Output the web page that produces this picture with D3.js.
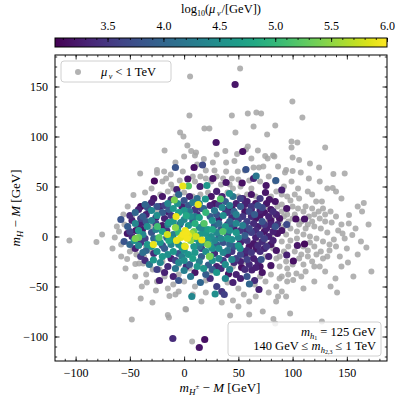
<!DOCTYPE html>
<html lang="en">
<head>
<meta charset="UTF-8">
<script src="https://d3js.org/d3.v7.min.js"></script>
<style>
body { margin: 0; background: #fff; }
text { font-family: "Liberation Serif", "DejaVu Serif", serif; fill: #000; }
</style>
</head>
<body>
<div id="vis"></div>
<script>

// grey points: mu_v < 1 TeV  [mH+- - M, mH - M]
var greyPts = [
  [5.5,160],[51.6,168],[99.8,135],[109,119],[4.9,121],[44,121],[58.7,123],[66.6,124],[71,123],[84,111],
  [64,110],[18.7,108],[23.3,108],[-3.7,104],[-0.6,100],[47.3,104],[76.5,102],[3,91],[6.5,85.5],[11,84],
  [10,81],[38,85.5],[48.8,82.5],[58.7,90],[57,87],[74.7,80.5],[83.2,80],[46.4,75.5],[38.7,74],[26.5,74],
  [18.2,77.5],[-1.2,65],[-12.3,62],[38.7,65],[49.5,65],[56,66],[64,69],[69,69],[73,70],[77,78],[82,81],
  [-16.6,58],[44,58],[50,57],[36,58],
  [99,95],[104.4,94],[99,89],[130,89],[100,79],[106,76.5],[116,73],[124.4,69],[137.6,62.5],[148,63],
  [107.5,64],[100,65.5],[94,66.5],[93,64],[86.6,70],
  [-18,86],[-40.5,63],[-25,66.5],[-25,63.5],[-18.4,65],[-46.7,41.5],[-20,55],[-12,52],[-30,48],[-36,44],
  [-22,42],[-15,45],
  [-105.7,-4],[-80.8,-5.5],[-75.6,2],[-63.9,-1],[-52.5,-22.5],[-48.2,-83],[-39,-50],[-34.4,-46],[-29.2,-66],
  [-26,-54],[-45,-27.5],[-41.5,-27],[-37.8,-27],[-28.9,-33],[-22.7,-33],[-60,5],[-58,-8],[-55,12],[-48,20],
  [-45,25],[-40,30],[-47,-12],[-50,-15],[-44,-18],[-37,-20],
  [-15,-78.5],[-14,-81],[1.8,-73],[-13.5,-59.5],[1.2,-72.5],[16,-65],[34.7,-66],[45,-64],[42.4,-79],
  [72.5,-75],[82.3,-82.5],[84,-87],[84.8,-65],[97.7,-77],[127,-85],[7.4,-105],
  [-10,-48],[0,-45],[10,-50],[20,-44],[40,-46],[50,-52],[55,-58],[65,-48],[75,-45],[85,-50],[90,-40],
  [95,-32],[70,-40],[-5,-38],[-18,-40],[60,-65],[-8,-58],
  [86,30],[90,25],[95,22],[100,30],[105,28],[110,25],[115,20],[120,22],[125,18],[130,15],[128,28],
  [135,25],[140,20],[145,12],[152,21.5],[164,25],[151.8,13],[146,3],[155,1.5],[163,-5],[168,-11],
  [143.5,-20],[150,-12],[151,-26],[139.5,-42],[141,-56],[172.6,-35],[165.6,33.5],[137,48.5],[140,45],
  [121.7,35],[127,35],[99,55],[105,48],[114,45],[118,42],[95,40],[90,42],[85,45],[80,40],[76,30],
  [82,20],[88,15],[92,10],[98,8],[104,5],[110,2],[116,0],[122,-2],[128,-5],[134,-8],[138,-3],[132,4],
  [126,8],[120,10],[114,12],[108,15],[100,18],[94,2],[90,-5],[96,-10],[102,-15],[108,-18],[114,-14],
  [120,-10],[126,-15],[132,-20],[118,-25],[110,-28],[103.5,-37],[100.5,-43.5],[95,-45],[112,-35],
  [125,-30],[86.6,-60],[90,-55],[80,-30],[75,-20],[85,-22],[88,-30],[70,-5],[76,-8],[82,-12],[72,10],
  [78,15],[84,5],[80,0],[65,20],[60,25],[70,30],[66,40],[58,42],[62,48],[54,30],[50,40],[45,48],
  [40,44],[30,46],[22,44],[15,42],[8,40],[0,44],[-8,40],[25,55],[30,60],[15,60],[10,55],[60,-20],
  [55,-25],[45,-30],[35,-25],[25,-35],[15,-30],[5,-32],[-5,-28],[-12,-22],[-20,-25],[-30,-15],
  [-35,-10],[-30,10],[-25,25],[-15,30],[130,-35],[145,-30],[158,8],[160,-18],
  [92,20],[96,15],[102,22],[106,12],[112,8],[118,15],[124,25],[130,22],[136,14],[142,6],[148,-2],
  [140,-10],[134,-14],[128,-22],[122,-18],[116,-6],[110,-10],[104,-2],[98,-4],[92,-15],[88,-20],
  [94,-25],[100,-28],[106,-22],[114,-20],[120,-30],[108,-40],[96,-38],[88,-42],[80,-38],[90,32],
  [98,36],[106,38],[112,30],[118,28],[102,42],[92,50],[84,55],[78,60],[70,55],[60,56],[52,50],
  [42,52],[34,52],[20,58],[8,60],[-4,56],[-10,48],[28,66],[20,66],[12,72],[0,80],[-8,74],[30,82],
  [62,78],[68,86],[94,-60],[110,-52],[78,-56],[66,-60],[120,-45],[135,-50],[156,-40],[160,30],
  [170,12],[145,38],[132,48],[125,55],[115,58],[-52,30],[-56,22],[-62,10],[-66,-12],[-58,-20],
  [-54,-32],[-45,-40],[-35,-38],[-25,-45],[-15,-52],[-5,-55],[8,-58],[20,-56],[50,-70],[60,-78],[-40,-62]
];

// coloured points: [mH+- - M, mH - M, log10(mu_v/GeV)]
var colPts = [
  [47,152,3.2],[29.5,94,3.2],[54,85,3.15],[-8,69,3.8],[9.2,69,3.15],[17,71.5,3.7],[57,67,3.8],
  [66.4,60.5,4.2],[84.5,56,3.9],[90,46.5,3.3],[94.6,28,3.2],[103,17.5,3.15],[111,17.5,3.2],
  [104.4,-9,3.2],[111,-7.5,3.1],[94.6,-18.5,3.3],[100.7,-24.5,3.15],[94.6,12,3.7],[-27.4,55.5,3.1],
  [-58.3,17,3.8],[-10.4,-102,3.4],[19,-103,3.15],[14,-111,3.2],[-22.7,-44,3.3],[7.1,-60,4.4],
  [28.6,-57.5,4.5],[34.7,-55,3.5],[30.1,-50,3.6],[37,-58,3.6],[60.2,-47.5,4.0],[69,-53,3.3],
  [40.9,-37.5,3.2],[53,-31,3.15],[62.4,-33.5,3.3],[80,-29,3.2],[71,-23,3.8],[3.4,57.5,3.2],
  [-6.7,47,3.3],[-1.2,50.5,5.9],[4,50.5,5.2],[21,51,4.6],[14.7,50,3.3],[26.5,58,3.2],[38.7,54,3.2],
  [53.5,53.5,3.15],[64,58,3.3],[75.6,51,3.2],[78.6,37,3.2],[75,44,3.2],[-33.8,29,3.8],[-9,36.5,5.4],
  [13,32,5.9],[33.5,37.5,5.2],[41.8,43,4.5],[30,45,3.3],[19.6,37.5,4.6],[54,38,3.3],[-52.3,3,3.2],
  [-55.3,-5,3.8],[-44.5,6,3.2],[-38.4,7,3.2],[-45,-2,5.4],[-42,-1,5.3],[-33.8,-8,4.6],[-28.3,-8,5.9],
  [-23,-1,5.2],[-28.3,-23.5,4.6],[-25,-15,4.5],[-32,26.5,3.2],[-26,19,3.3],[-7.4,20,5.9],[-15.4,2,5.8],
  [-14.5,24.5,3.3],[-24.6,10,5.1],[16.3,-3.5,5.9],[1,-10,5.9],[0.3,-9.5,5.6],[23.3,-20,5.4],
  [21.8,-8,5.4],[35.7,5,5.2],[18.4,13,5.2],[24.6,-20,4.6],[22.4,-28.5,3.9],[24,-19.5,5.2],
  [51.6,-12,4.5],[66.4,-12.5,3.2],
  [-1,2,5.95],[2,4,5.95],[4,1,5.9],[7,3,5.6],[-3,-1,5.9],[3,-2,5.95],[9,5,5.3],[1,6,5.9],
  [6,-4,5.5],[-5,4,5.0],[11,0,5.8],[-7,-4,5.9],
  [-20,40,3.2],[-5,42,4.0],[5,40,3.3],[25,40,3.2],[45,40,4.2],[62,42,3.2],[70,38,3.5],
  [-30,34,3.3],[-15,33,4.4],[0,36,3.8],[8,34,4.3],[28,33,3.2],[38,35,3.9],[48,33,3.3],[58,35,3.3],
  [66,33,3.2],[84,35,3.2],
  [-40,30,3.1],[-25,30,3.8],[-10,28,4.6],[-2,30,3.3],[18,28,4.0],[24,31,3.3],[35,29,4.4],[44,28,3.2],
  [52,30,3.9],[62,27,3.3],[72,29,3.7],[80,27,3.2],
  [-45,24,4.0],[-35,22,3.3],[-20,24,3.9],[-5,24,4.7],[5,25,4.2],[12,22,3.4],[20,24,5.0],[30,22,3.8],
  [40,24,3.5],[48,22,4.3],[56,25,3.2],[65,22,3.9],[74,24,3.2],[85,22,3.3],
  [-48,16,3.3],[-40,18,3.6],[-30,16,4.3],[-18,18,3.3],[-10,15,4.6],[0,17,4.4],[8,15,3.9],[14,19,4.7],
  [26,16,4.5],[32,18,3.3],[42,15,4.0],[50,17,3.6],[58,15,3.6],[66,18,3.2],[72,15,3.8],[80,16,3.2],
  [88,18,3.2],
  [-52,10,3.9],[-42,12,3.3],[-34,10,4.5],[-20,11,3.2],[-8,9,5.5],[4,11,4.6],[14,9,4.4],[22,7,4.7],
  [28,11,3.9],[38,10,4.6],[46,8,3.3],[54,11,4.3],[60,8,3.7],[68,10,3.3],[76,8,3.3],[84,10,3.8],
  [90,6,3.2],
  [-48,0,3.4],[-38,2,4.4],[-30,4,3.8],[-20,5,4.7],[-10,2,4.3],[15,2,4.6],[25,0,4.5],[30,4,4.4],
  [40,2,3.9],[48,4,4.6],[56,1,3.9],[62,4,3.6],[70,2,3.6],[78,0,3.3],[86,3,3.2],
  [-50,-8,4.0],[-40,-6,3.5],[-22,-6,4.6],[-14,-4,4.8],[-5,-8,4.5],[9,-10,4.6],[18,-6,4.5],[28,-4,4.4],
  [36,-6,3.8],[44,-3,4.5],[52,-6,3.3],[58,-4,3.5],[64,-7,3.2],[72,-5,3.4],[80,-8,3.2],
  [-45,-12,3.3],[-35,-14,4.0],[-18,-12,3.9],[-10,-15,4.6],[0,-14,4.5],[10,-16,4.6],[16,-12,3.6],
  [32,-12,4.5],[40,-14,4.2],[46,-10,3.8],[58,-14,3.4],[74,-12,3.3],[85,-14,3.2],
  [-40,-20,3.5],[-20,-20,4.6],[-12,-22,3.3],[-2,-20,4.3],[8,-22,4.7],[16,-20,3.9],[32,-22,4.4],
  [40,-18,3.3],[48,-22,3.6],[56,-18,3.3],[64,-22,3.3],[78,-20,3.3],
  [-32,-28,4.2],[-15,-30,3.4],[-5,-26,4.4],[5,-28,3.9],[12,-30,4.6],[30,-30,3.3],[38,-28,4.5],
  [46,-26,3.4],[60,-28,3.4],[70,-30,3.2],
  [-18,-36,3.3],[0,-34,4.3],[10,-36,3.2],[20,-38,3.9],[30,-36,4.6],[48,-38,3.3],[58,-40,3.8],[72,-36,3.2],
  [-5,-44,3.8],[15,-46,4.0],[45,-46,3.3],[65,-44,3.4],
  [-35,15,3.9],[-28,-2,4.0],[-15,12,4.3],[-3,14,4.4],[6,20,4.5],[10,-2,4.7],[20,3,4.6],[-12,-8,4.4],
  [34,-2,4.4],[26,-12,4.5],[16,28,3.6],[-22,30,3.3],[44,12,3.8],[52,-18,3.7],[62,30,3.5],
  [-12,37,3.4],[12,38,4.1],[35,40,3.3],[52,38,3.6],[-28,38,3.2],
  [-36,32,4.0],[-18,31,3.6],[-6,33,4.5],[4,31,3.9],[14,33,4.4],[32,32,3.5],[42,31,4.3],[56,32,3.3],
  [68,31,3.8],[76,33,3.2],
  [-42,27,3.3],[-30,26,4.4],[-14,27,3.9],[0,26,4.6],[10,27,3.5],[28,26,4.2],[38,27,3.4],[46,25,4.0],
  [60,25,3.7],[70,26,3.3],[82,25,3.4],
  [-50,21,3.4],[-38,20,3.9],[-25,21,4.5],[-12,21,3.5],[2,21,4.8],[10,20,4.3],[24,20,3.9],[36,21,4.5],
  [44,19,3.4],[54,20,3.5],[62,20,3.4],[70,21,3.2],[78,20,3.3],[86,12,3.4],
  [-45,13,4.4],[-38,14,3.3],[-26,13,3.7],[-14,14,4.6],[-4,12,3.8],[10,13,4.9],[18,12,4.4],[32,13,4.1],
  [40,12,3.4],[48,13,4.4],[56,12,3.6],[64,13,3.4],[74,12,3.5],[80,12,3.3],
  [-50,5,3.6],[-42,6,4.6],[-26,7,4.3],[-16,6,3.5],[-6,8,4.6],[18,6,4.4],[26,7,4.8],[34,7,3.8],
  [42,6,4.5],[52,6,3.5],[58,6,3.4],[66,6,3.4],[74,5,3.2],[82,5,3.3],
  [-46,-4,4.5],[-36,-2,3.6],[-24,-2,4.5],[-16,-1,4.0],[-10,-3,4.6],[14,-6,4.4],[22,-3,4.6],[32,-1,4.0],
  [40,-2,4.6],[50,-1,4.4],[56,-2,3.5],[66,-1,3.3],[74,-2,3.6],[82,-4,3.3],
  [-42,-9,4.4],[-30,-10,4.6],[-20,-9,3.7],[-2,-11,4.6],[14,-10,4.2],[24,-9,4.6],[30,-8,3.9],[42,-8,4.0],
  [50,-9,4.6],[60,-10,3.2],[68,-9,3.4],[76,-10,3.5],
  [-38,-16,4.1],[-28,-17,3.4],[-15,-18,4.5],[-5,-17,3.8],[4,-18,4.6],[20,-15,4.5],[28,-17,3.4],
  [36,-16,4.4],[44,-15,3.5],[54,-15,3.3],[62,-16,3.5],[70,-15,3.4],
  [-36,-24,3.4],[-22,-26,4.4],[-8,-24,3.6],[0,-24,4.5],[14,-25,4.3],[26,-24,4.5],[36,-24,3.6],
  [44,-23,4.4],[52,-25,3.3],[58,-23,3.6],[68,-25,3.3],
  [-25,-33,3.6],[-8,-32,4.2],[2,-30,3.4],[18,-32,4.6],[26,-33,3.9],[34,-32,3.4],[42,-33,4.3],
  [56,-33,3.4],[66,-31,3.3],
  [-10,-40,3.3],[6,-40,4.2],[24,-42,3.4],[38,-42,4.4],[52,-42,3.3]
];

var xTicks = [-100, -50, 0, 50, 100, 150];
var yTicks = [-100, -50, 0, 50, 100, 150];
var cTicks = [3.5, 4.0, 4.5, 5.0, 5.5, 6.0];

var W = 399, H = 399;
var margin = {top: 55, left: 55, right: 12, bottom: 38};
var x0 = margin.left, x1 = W - margin.right;
var y0 = margin.top, y1 = H - margin.bottom;

var svg = d3.select("#vis").append("svg")
    .attr("width", W)
    .attr("height", H);

var x = d3.scaleLinear().domain([-119, 187]).range([x0, x1]);
var y = d3.scaleLinear().domain([-124.5, 181.5]).range([y1, y0]);
var c = d3.scaleSequential(d3.interpolateViridis).domain([3.03, 6.0]);

svg.append("clipPath").attr("id", "clip")
  .append("rect").attr("x", x0).attr("y", y0).attr("width", x1 - x0).attr("height", y1 - y0);

var plot = svg.append("g").attr("clip-path", "url(#clip)");

plot.selectAll(".grey").data(greyPts).enter()
  .append("circle")
    .attr("class", "grey")
    .attr("cx", function(d){ return x(d[0]); })
    .attr("cy", function(d){ return y(d[1]); })
    .attr("r", 3.0)
    .attr("fill", "#a4a4a4")
    .attr("fill-opacity", 0.85);

var sorted = colPts.slice().sort(function(a, b){ return a[2] - b[2]; });
plot.selectAll(".col").data(sorted).enter()
  .append("circle")
    .attr("class", "col")
    .attr("cx", function(d){ return x(d[0]); })
    .attr("cy", function(d){ return y(d[1]); })
    .attr("r", 3.6)
    .attr("fill", function(d){ return c(d[2]); });

// axes, ticks pointing inward on all sides
function styleAxis(g) {
  g.select(".domain").remove();
  g.selectAll(".tick line").attr("stroke", "#000").attr("stroke-width", 0.8);
  g.selectAll(".tick text").style("font-size", "12px").style("font-family", "Liberation Serif, serif");
}
function minors(dom, step) {
  var out = [];
  var start = Math.ceil(dom[0] / step) * step;
  for (var v = start; v <= dom[1] + 1e-9; v += step) out.push(+v.toFixed(6));
  return out;
}
var xMinor = minors(x.domain(), 10);
var yMinor = minors(y.domain(), 10);

svg.append("g").attr("transform", "translate(0," + y1 + ")")
  .call(d3.axisBottom(x).tickValues(xMinor).tickSize(-2.2).tickFormat("")).call(styleAxis);
svg.append("g").attr("transform", "translate(0," + y1 + ")")
  .call(d3.axisBottom(x).tickValues(xTicks).tickSize(-4.5).tickPadding(7)).call(styleAxis);
svg.append("g").attr("transform", "translate(0," + y0 + ")")
  .call(d3.axisTop(x).tickValues(xMinor).tickSize(-2.2).tickFormat("")).call(styleAxis);
svg.append("g").attr("transform", "translate(0," + y0 + ")")
  .call(d3.axisTop(x).tickValues(xTicks).tickSize(-4.5).tickFormat("")).call(styleAxis);

svg.append("g").attr("transform", "translate(" + x0 + ",0)")
  .call(d3.axisLeft(y).tickValues(yMinor).tickSize(-2.2).tickFormat("")).call(styleAxis);
svg.append("g").attr("transform", "translate(" + x0 + ",0)")
  .call(d3.axisLeft(y).tickValues(yTicks).tickSize(-4.5).tickPadding(7)).call(styleAxis);
svg.append("g").attr("transform", "translate(" + x1 + ",0)")
  .call(d3.axisRight(y).tickValues(yMinor).tickSize(-2.2).tickFormat("")).call(styleAxis);
svg.append("g").attr("transform", "translate(" + x1 + ",0)")
  .call(d3.axisRight(y).tickValues(yTicks).tickSize(-4.5).tickFormat("")).call(styleAxis);

svg.append("rect")
  .attr("x", x0).attr("y", y0).attr("width", x1 - x0).attr("height", y1 - y0)
  .attr("fill", "none").attr("stroke", "#000").attr("stroke-width", 1);

// colour bar
var cbTop = 38, cbH = 9;
var defs = svg.append("defs");
var grad = defs.append("linearGradient").attr("id", "vir").attr("x1", "0%").attr("x2", "100%");
d3.range(0, 1.0001, 0.05).forEach(function(t){
  grad.append("stop").attr("offset", (t * 100) + "%").attr("stop-color", d3.interpolateViridis(t));
});
var cx = d3.scaleLinear().domain(c.domain()).range([x0, x1]);
svg.append("rect")
  .attr("x", x0).attr("y", cbTop).attr("width", x1 - x0).attr("height", cbH)
  .attr("fill", "url(#vir)");
svg.append("g").attr("transform", "translate(0," + cbTop + ")")
  .call(d3.axisTop(cx).tickValues(minors(cx.domain(), 0.1)).tickSize(-2).tickFormat("")).call(styleAxis);
svg.append("g").attr("transform", "translate(0," + cbTop + ")")
  .call(d3.axisTop(cx).tickValues(cTicks).tickSize(-4).tickPadding(8).tickFormat(d3.format(".1f"))).call(styleAxis);
svg.append("rect")
  .attr("x", x0).attr("y", cbTop).attr("width", x1 - x0).attr("height", cbH)
  .attr("fill", "none").attr("stroke", "#000").attr("stroke-width", 1);

var cbLab = svg.append("text").attr("x", (x0 + x1) / 2).attr("y", 13)
  .attr("text-anchor", "middle").style("font-size", "12.5px");
cbLab.append("tspan").text("log");
cbLab.append("tspan").attr("dy", 3).style("font-size", "8px").text("10");
cbLab.append("tspan").attr("dy", -3).text("(");
cbLab.append("tspan").style("font-style", "italic").text("μ");
cbLab.append("tspan").attr("dy", 2.5).attr("dx", 1.5).style("font-size", "8px").style("font-style", "italic").text("v");
cbLab.append("tspan").attr("dy", -2.5).attr("dx", 1).text("/[GeV])");

// axis labels
var xl = svg.append("text").attr("x", 220).attr("y", 392)
  .attr("text-anchor", "middle").style("font-size", "13px");
xl.append("tspan").style("font-style", "italic").text("m");
xl.append("tspan").attr("dy", 3).style("font-size", "9px").style("font-style", "italic").text("H");
xl.append("tspan").attr("dy", -6).style("font-size", "7px").text("±");
xl.append("tspan").attr("dy", 3).text(" − ");
xl.append("tspan").style("font-style", "italic").text("M");
xl.append("tspan").text(" [GeV]");

var yl = svg.append("text").attr("transform", "translate(20,208) rotate(-90)")
  .attr("text-anchor", "middle").style("font-size", "13px");
yl.append("tspan").style("font-style", "italic").text("m");
yl.append("tspan").attr("dy", 3).style("font-size", "9px").style("font-style", "italic").text("H");
yl.append("tspan").attr("dy", -3).text(" − ");
yl.append("tspan").style("font-style", "italic").text("M");
yl.append("tspan").text(" [GeV]");

// legend
svg.append("rect").attr("x", 61).attr("y", 61).attr("width", 110).attr("height", 21)
  .attr("rx", 3).attr("fill", "#fff").attr("fill-opacity", 0.8)
  .attr("stroke", "#d0d0d0").attr("stroke-width", 1);
svg.append("circle").attr("cx", 78).attr("cy", 72).attr("r", 3.0)
  .attr("fill", "#a4a4a4").attr("fill-opacity", 0.85);
var lg = svg.append("text").attr("x", 101).attr("y", 76).style("font-size", "12.5px");
lg.append("tspan").style("font-style", "italic").text("μ");
lg.append("tspan").attr("dy", 3).attr("dx", 1.5).style("font-size", "8px").style("font-style", "italic").text("v");
lg.append("tspan").attr("dy", -3).text(" < 1 TeV");

// annotation box
svg.append("rect").attr("x", 228).attr("y", 322).attr("width", 153).attr("height", 34)
  .attr("rx", 3).attr("fill", "#fff").attr("fill-opacity", 0.8)
  .attr("stroke", "#d0d0d0").attr("stroke-width", 1);
var a1 = svg.append("text").attr("x", 376).attr("y", 336)
  .attr("text-anchor", "end").style("font-size", "12.5px");
a1.append("tspan").style("font-style", "italic").text("m");
a1.append("tspan").attr("dy", 2.5).style("font-size", "8.5px").style("font-style", "italic").text("h");
a1.append("tspan").attr("dy", 1).style("font-size", "6px").text("1");
a1.append("tspan").attr("dy", -3.5).text(" = 125 GeV");
var a2 = svg.append("text").attr("x", 376).attr("y", 350)
  .attr("text-anchor", "end").style("font-size", "12.5px");
a2.append("tspan").text("140 GeV ≤ ");
a2.append("tspan").style("font-style", "italic").text("m");
a2.append("tspan").attr("dy", 2.5).style("font-size", "8.5px").style("font-style", "italic").text("h");
a2.append("tspan").attr("dy", 1).style("font-size", "6px").text("2,3");
a2.append("tspan").attr("dy", -3.5).text(" ≤ 1 TeV");

</script>
</body>
</html>
